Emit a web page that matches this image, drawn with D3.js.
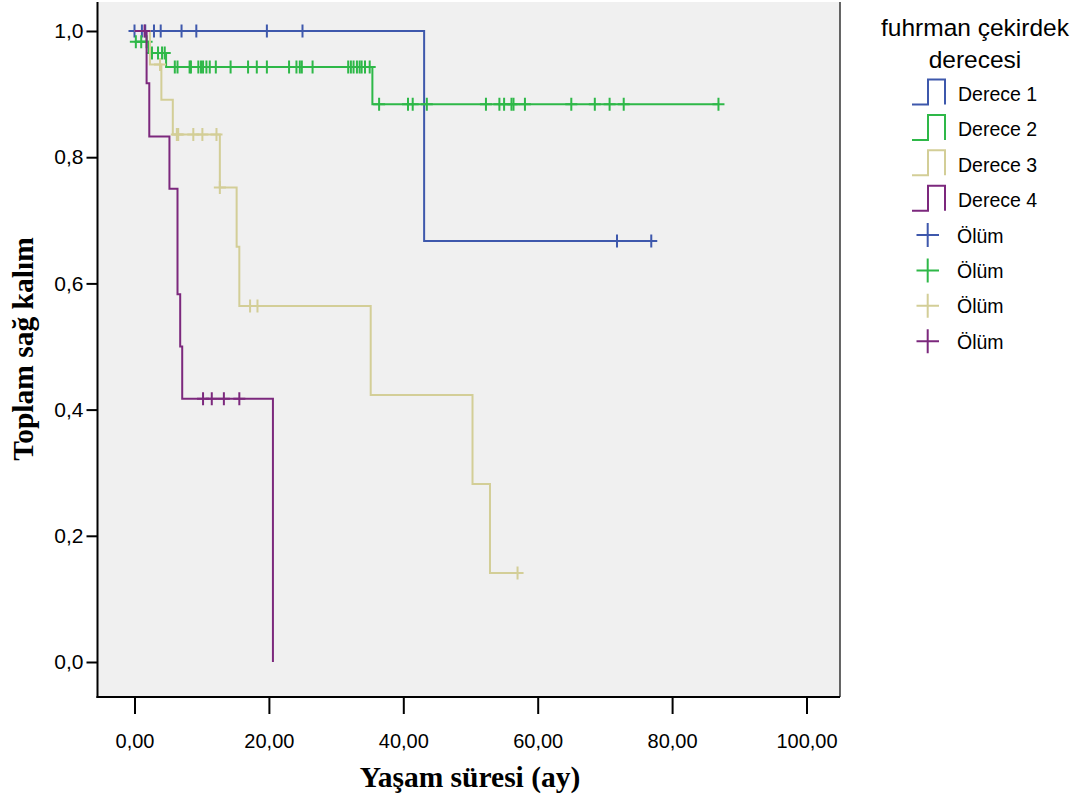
<!DOCTYPE html>
<html>
<head>
<meta charset="utf-8">
<script src="https://cdn.jsdelivr.net/npm/d3@7"></script>
<style>
  body { margin: 0; background: #fff; }
  .tick text { font-family: "Liberation Sans", Arial, sans-serif; fill: #000; }
  .xaxis .tick text { font-size: 20px; }
  .yaxis .tick text { font-size: 21px; }
  .tick line { stroke: #000; stroke-width: 2; }
</style>
</head>
<body>
<svg id="km"></svg>
<script>
// survival curves: [time, survival] at each step
var grades = ["Derece 1", "Derece 2", "Derece 3", "Derece 4"];
var gradeColors = ["#3E58AC", "#2EB848", "#D3CE97", "#7C287D"];

var d1Steps = [[0, 1.0], [43.1, 0.667]];
var d1Cens = [0, 1.1, 1.6, 2.9, 3.9, 7.0, 9.2, 19.7, 25.0, 71.8, 76.9];
var d1End = 76.9;

var d2Steps = [[0, 0.983], [2.1, 0.965], [4.7, 0.943], [35.4, 0.884]];
var d2Cens = [0.2, 1.0, 1.8, 2.6, 3.5, 4.1, 4.5,
              6.0, 6.4, 8.2, 8.4, 9.5, 9.9, 10.2, 10.7, 11.2, 12.1, 14.3, 16.9, 18.2, 19.7,
              23.0, 24.1, 24.6, 24.9, 26.5, 31.8, 32.2, 32.6, 33.1, 33.5, 33.8, 34.3, 35.0,
              36.4, 40.7, 41.4, 43.5, 52.3, 54.3, 55.0, 56.1, 56.4, 58.1, 65.0, 68.5, 70.7, 72.8, 86.9];
var d2End = 86.9;

var d3Steps = [[0, 1.0], [2.3, 0.947], [4.0, 0.891], [5.7, 0.836], [12.7, 0.752], [15.2, 0.658],
               [15.6, 0.564], [35.15, 0.423], [50.3, 0.282], [52.9, 0.141]];
var d3Cens = [3.8, 6.3, 6.5, 8.75, 10.1, 12.2, 12.7, 17.2, 18.3, 57.0];
var d3End = 57.0;

var d4Steps = [[0, 1.0], [1.8, 0.917], [2.2, 0.833], [5.2, 0.75], [6.4, 0.583], [6.8, 0.5],
               [7.1, 0.417], [20.6, 0]];
var d4Cens = [1.5, 10.2, 11.5, 13.3, 15.6];
var d4End = 20.6;

var xTicks = [0, 20, 40, 60, 80, 100];
var yTicks = [0, 0.2, 0.4, 0.6, 0.8, 1.0];
var legendTitle = ["fuhrman çekirdek", "derecesi"];
var censorLabel = "Ölüm";

var allSteps = [d1Steps, d2Steps, d3Steps, d4Steps];
var allCens = [d1Cens, d2Cens, d3Cens, d4Cens];
var allEnds = [d1End, d2End, d3End, d4End];

var width = 1083, height = 802;
var svg = d3.select("#km").attr("width", width).attr("height", height);

// frame of the plot
var fx0 = 97.5, fx1 = 840, fy0 = 2, fy1 = 697;
var x = d3.scaleLinear().domain([0, 100]).range([134.5, 806.5]);
var y = d3.scaleLinear().domain([0, 1]).range([662, 31]);

svg.append("rect")
  .attr("x", fx0).attr("y", fy0)
  .attr("width", fx1 - fx0).attr("height", fy1 - fy0)
  .attr("fill", "#f0f0f0");
svg.append("line")
  .attr("x1", fx1).attr("x2", fx1).attr("y1", fy0).attr("y2", fy1)
  .attr("stroke", "#333").attr("stroke-width", 1.5);

// axes
var comma = function(f) { return function(d) { return d3.format(f)(d).replace(".", ","); }; };
var gx = svg.append("g")
  .attr("class", "xaxis")
  .attr("transform", "translate(0," + fy1 + ")")
  .call(d3.axisBottom(x).tickValues(xTicks).tickFormat(comma(".2f")).tickSize(17).tickPadding(20));
gx.select(".domain").remove();
var gy = svg.append("g")
  .attr("class", "yaxis")
  .attr("transform", "translate(" + fx0 + ",0)")
  .call(d3.axisLeft(y).tickValues(yTicks).tickFormat(comma(".1f")).tickSize(11).tickPadding(3));
gy.select(".domain").remove();

svg.append("line")
  .attr("x1", fx0).attr("x2", fx0).attr("y1", fy0).attr("y2", fy1 + 1)
  .attr("stroke", "#000").attr("stroke-width", 2);
svg.append("line")
  .attr("x1", fx0 - 1).attr("x2", fx1).attr("y1", fy1).attr("y2", fy1)
  .attr("stroke", "#000").attr("stroke-width", 2);

// axis titles
svg.append("text")
  .attr("x", 470).attr("y", 787)
  .attr("text-anchor", "middle")
  .attr("font-family", "Liberation Serif, Times New Roman, serif")
  .attr("font-weight", "bold").attr("font-size", "29.5px")
  .text("Yaşam süresi (ay)");
svg.append("text")
  .attr("transform", "translate(33,349) rotate(-90)")
  .attr("text-anchor", "middle")
  .attr("font-family", "Liberation Serif, Times New Roman, serif")
  .attr("font-weight", "bold").attr("font-size", "29.5px")
  .text("Toplam sağ kalım");

// curves
var line = d3.line()
  .x(function(d) { return x(d[0]); })
  .y(function(d) { return y(d[1]); })
  .curve(d3.curveStepAfter);

function survAt(steps, t) {
  var s = steps[0][1];
  for (var k = 0; k < steps.length; k++) {
    if (steps[k][0] <= t) s = steps[k][1];
  }
  return s;
}

for (let g = 0; g < 4; g++) {
  var steps = allSteps[g];
  var last = steps[steps.length - 1];
  var pts = steps.slice();
  if (allEnds[g] > last[0]) pts.push([allEnds[g], last[1]]);
  svg.append("path")
    .attr("d", line(pts))
    .attr("fill", "none")
    .attr("stroke", gradeColors[g])
    .attr("stroke-width", 2);

  svg.append("g").selectAll("path")
    .data(allCens[g])
    .enter()
    .append("path")
    .attr("d", function(t) {
      var cx = x(t), cy = y(survAt(steps, t));
      return "M" + (cx - 6) + "," + cy + "H" + (cx + 6) +
             "M" + cx + "," + (cy - 6.5) + "V" + (cy + 6.5);
    })
    .attr("stroke", gradeColors[g])
    .attr("stroke-width", 2)
    .attr("fill", "none");
}

// legend
var lg = svg.append("g").attr("font-family", "Liberation Sans, Arial, sans-serif");
lg.selectAll("text.title")
  .data(legendTitle)
  .enter()
  .append("text")
  .attr("class", "title")
  .attr("x", 975)
  .attr("y", function(d, i) { return 36 + i * 32; })
  .attr("text-anchor", "middle")
  .attr("font-size", "24.5px")
  .text(function(d) { return d; });

for (let g = 0; g < 4; g++) {
  var by = 101 + g * 35.4;
  lg.append("path")
    .attr("d", "M912," + (by + 3.5) + "H928V" + (by - 21.5) + "H945V" + (by + 3.5))
    .attr("fill", "none")
    .attr("stroke", gradeColors[g])
    .attr("stroke-width", 2);
  lg.append("text")
    .attr("x", 958).attr("y", by)
    .attr("font-size", "19.5px")
    .text(grades[g]);

  var cy = 235 + g * 35.4;
  lg.append("path")
    .attr("d", "M916.5," + cy + "H939M927.7," + (cy - 12) + "V" + (cy + 12))
    .attr("stroke", gradeColors[g])
    .attr("stroke-width", 2)
    .attr("fill", "none");
  lg.append("text")
    .attr("x", 957).attr("y", cy + 7.5)
    .attr("font-size", "19.5px")
    .text(censorLabel);
}
</script>
</body>
</html>
